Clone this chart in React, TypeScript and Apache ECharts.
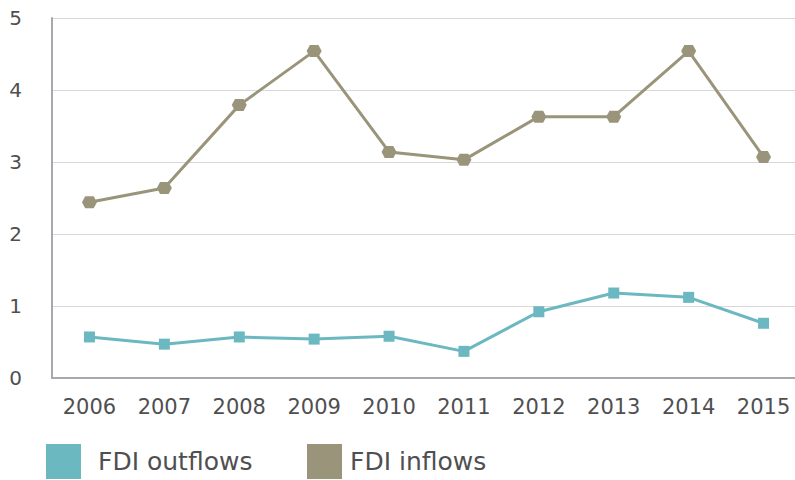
import React, { useEffect, useRef } from "react";
import * as echarts from "echarts";

const years = ["2006", "2007", "2008", "2009", "2010", "2011", "2012", "2013", "2014", "2015"];
const fdiOutflows = [0.57, 0.47, 0.57, 0.54, 0.58, 0.37, 0.92, 1.18, 1.12, 0.76];
const fdiInflows = [2.44, 2.64, 3.79, 4.54, 3.14, 3.03, 3.63, 3.63, 4.54, 3.07];
const seriesNames = ["FDI outflows", "FDI inflows"];

const TEAL = "#6cb8c1";
const KHAKI = "#9a957a";
const TEXT = "#4f4f51";
const FONT = "DejaVu Sans";

export default function App() {
  const ref = useRef<HTMLDivElement>(null);
  useEffect(() => {
    if (!ref.current) return;
    const chart = echarts.init(ref.current, null, { renderer: "svg" });
    chart.setOption({
      animation: false,
      backgroundColor: "#ffffff",
      textStyle: { fontFamily: FONT },
      grid: { left: 52, right: 1, top: 18, bottom: 102, containLabel: false },
      legend: [
        {
          data: [seriesNames[0]],
          left: 46,
          top: 444,
          padding: 0,
          icon: "rect",
          itemWidth: 35,
          itemHeight: 35,
          itemStyle: { borderWidth: 0 },
          textStyle: { fontSize: 25, color: TEXT, fontFamily: FONT, padding: [15, 0, 0, 12] },
        },
        {
          data: [seriesNames[1]],
          left: 307,
          top: 444,
          padding: 0,
          icon: "rect",
          itemWidth: 35,
          itemHeight: 35,
          itemStyle: { borderWidth: 0 },
          textStyle: { fontSize: 25, color: TEXT, fontFamily: FONT, padding: [15, 0, 0, 3] },
        },
      ],
      xAxis: {
        type: "category",
        data: years,
        boundaryGap: true,
        axisLine: { show: true, lineStyle: { color: "#a9a8ae", width: 2 } },
        axisTick: { show: false },
        axisLabel: { color: TEXT, fontSize: 21, fontFamily: FONT, margin: 18 },
        splitLine: { show: false },
      },
      yAxis: {
        type: "value",
        min: 0,
        max: 5,
        interval: 1,
        axisLine: { show: true, lineStyle: { color: "#a9a8ae", width: 2 } },
        axisTick: { show: false },
        axisLabel: { color: TEXT, fontSize: 20, fontFamily: FONT, margin: 30 },
        splitLine: { show: true, lineStyle: { color: "#d9d9d9", width: 1 } },
      },
      series: [
        {
          name: seriesNames[0],
          type: "line",
          data: fdiOutflows,
          symbol: "rect",
          symbolSize: 11,
          lineStyle: { color: TEAL, width: 3 },
          itemStyle: { color: TEAL, borderWidth: 0 },
          z: 3,
        },
        {
          name: seriesNames[1],
          type: "line",
          data: fdiInflows,
          symbol: "path://M0,5 L3,0 L11,0 L14,5 L11,10 L3,10 Z",
          symbolSize: [15, 12],
          symbolKeepAspect: false,
          lineStyle: { color: KHAKI, width: 3 },
          itemStyle: { color: KHAKI, borderWidth: 0 },
          z: 3,
        },
      ],
    });
    return () => chart.dispose();
  }, []);
  return (
    <div style={{ position: "absolute", left: 0, top: 0, width: 795, height: 480, overflow: "hidden", background: "#fff" }}>
      <div ref={ref} style={{ width: 802, height: 480 }} />
    </div>
  );
}
